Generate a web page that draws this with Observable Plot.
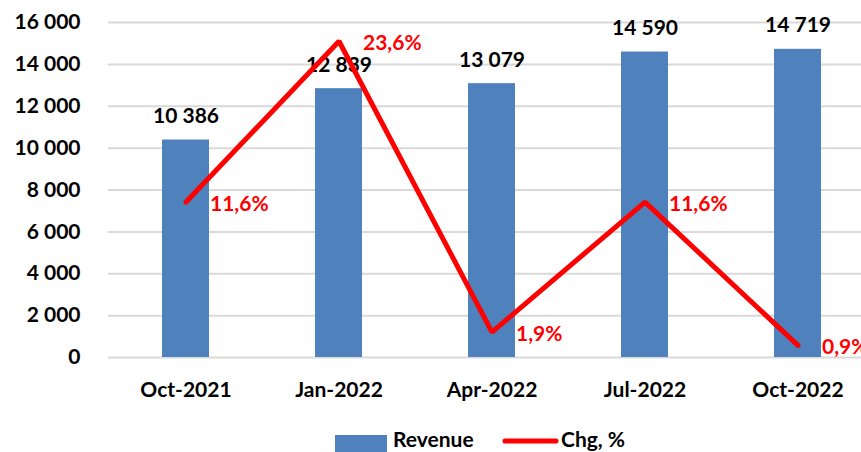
<!DOCTYPE html>
<html>
<head>
<meta charset="utf-8">
<script src="https://cdn.jsdelivr.net/npm/d3@7"></script>
<script src="https://cdn.jsdelivr.net/npm/@observablehq/plot@0.6"></script>
<style>
  html, body { margin: 0; padding: 0; background: #fff; }
  #chart { width: 861px; }
  svg { display: block; }
</style>
</head>
<body>
<div id="chart"></div>
<script>
// ---- data ----
const periods = ["Oct-2021", "Jan-2022", "Apr-2022", "Jul-2022", "Oct-2022"];
const revenue = [10386, 12839, 13079, 14590, 14719];
const chgPct  = [11.6, 23.6, 1.9, 11.6, 0.9];
const yTicks  = [0, 2000, 4000, 6000, 8000, 10000, 12000, 14000, 16000];
const revMax = 16000;   // primary axis max
const pctMax = 25;      // hidden secondary axis max (%)

const rows = periods.map((p, i) => ({period: p, revenue: revenue[i], pct: chgPct[i]}));

const FONT = "Lato, 'Open Sans', sans-serif";
const FS = 21;
const fmtNum = d => d3.format(",")(d).replace(/,/g, " ");
const fmtPct = d => d3.format(".1f")(d).replace(".", ",") + "%";
const pctToY = d => d.pct / pctMax * revMax;

const plot = Plot.plot({
  width: 861,
  height: 410,
  marginTop: 22,
  marginBottom: 53,
  marginLeft: 108,
  marginRight: 0,
  style: {fontFamily: FONT, fontSize: FS + "px", fontWeight: "bold", color: "#000", background: "#fff"},
  x: {type: "band", domain: periods, range: [108, 876], paddingInner: 0.69, paddingOuter: 0.345, label: null},
  y: {domain: [0, revMax], label: null},
  marks: [
    Plot.gridY(yTicks, {stroke: "#d9d9d9", strokeOpacity: 1, strokeWidth: 2}),
    Plot.axisY(yTicks, {tickSize: 0, tickPadding: 28, tickFormat: fmtNum, fontSize: FS, fontWeight: "bold", fill: "#000", label: null}),
    Plot.axisX({tickSize: 0, tickPadding: 25, fontSize: FS, fontWeight: "bold", fill: "#000", label: null}),
    Plot.barY(rows, {x: "period", y: "revenue", fill: "#4F81BD"}),
    Plot.text(rows, {x: "period", y: "revenue", text: d => fmtNum(d.revenue), lineAnchor: "bottom", dy: -17, fontSize: FS, fontWeight: "bold", fill: "#000"}),
    Plot.line(rows, {x: "period", y: pctToY, stroke: "#ff0000", strokeWidth: 5, strokeLinejoin: "miter", strokeLinecap: "round"}),
    Plot.text(rows, {x: "period", y: pctToY, text: d => fmtPct(d.pct), textAnchor: "start", dx: 24, dy: 2, fontSize: FS, fontWeight: "bold", fill: "#ff0000"})
  ]
});
document.getElementById("chart").appendChild(plot);

// ---- legend (below the plot) ----
const leg = d3.select("#chart").append("svg")
  .attr("width", 861).attr("height", 42)
  .style("font-family", FONT).style("font-size", FS + "px").style("font-weight", "bold");
leg.append("rect").attr("x", 335).attr("y", 25).attr("width", 52).attr("height", 17).attr("fill", "#4F81BD");
leg.append("text").attr("x", 393).attr("y", 37).text("Revenue");
leg.append("line").attr("x1", 505).attr("x2", 556).attr("y1", 31).attr("y2", 31)
  .attr("stroke", "#ff0000").attr("stroke-width", 5).attr("stroke-linecap", "round");
leg.append("text").attr("x", 561).attr("y", 37).text("Chg, %");
</script>
</body>
</html>
